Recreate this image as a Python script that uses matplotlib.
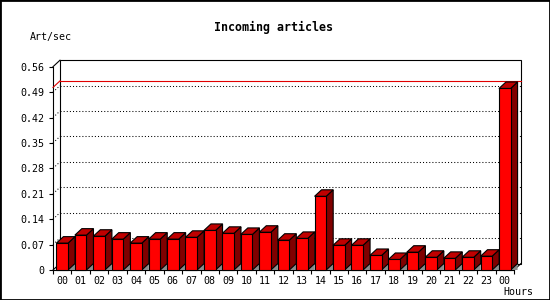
import matplotlib
matplotlib.use("Agg")
import matplotlib.pyplot as plt
from matplotlib import transforms
from matplotlib.patches import Polygon, Rectangle
import numpy as np

# ---- data ----
hours = ['00', '01', '02', '03', '04', '05', '06', '07', '08', '09', '10', '11',
         '12', '13', '14', '15', '16', '17', '18', '19', '20', '21', '22', '23', '00']
rates = [0.074, 0.096, 0.093, 0.085, 0.074, 0.085, 0.085, 0.090, 0.109, 0.101,
         0.098, 0.104, 0.082, 0.087, 0.203, 0.068, 0.068, 0.040, 0.029, 0.049,
         0.035, 0.032, 0.035, 0.038, 0.500]
max_line = 0.503
y_ticks = [0, 0.07, 0.14, 0.21, 0.28, 0.35, 0.42, 0.49, 0.56]
y_tick_labels = ['0', '0.07', '0.14', '0.21', '0.28', '0.35', '0.42', '0.49', '0.56']
title = 'Incoming articles'
y_label = 'Art/sec'
x_label = 'Hours'

# ---- style ----
W, H = 550, 300
DPI = 100
DX, DY = 7, 6.5          # 3D depth in pixels
BAR_W = 0.63
FRONT = '#ff0000'
TOP = '#c00000'
SIDE = '#800000'
SHADOW = '#8c8c8c'
MONO = 'DejaVu Sans Mono'
LW = 0.8

fig = plt.figure(figsize=(W / DPI, H / DPI), dpi=DPI)
fig.patch.set_facecolor('white')
ax = fig.add_axes([53 / W, 30 / H, 461 / W, 203.3 / H])
ax.set_facecolor('none')
n = len(rates)
ax.set_xlim(0, n)
ax.set_ylim(0, y_ticks[-1])

for s in ('top', 'right'):
    ax.spines[s].set_visible(False)
for s in ('left', 'bottom'):
    ax.spines[s].set_linewidth(LW)
    ax.spines[s].set_zorder(20)

ax.set_yticks(y_ticks, y_tick_labels)
ax.set_xticks(np.arange(0, n + 1))
ax.set_xticklabels([])
ax.set_xticks(np.arange(n) + 0.5, minor=True)
ax.set_xticklabels(hours, minor=True)
ax.tick_params(axis='y', length=3, width=LW, pad=3, labelsize=7.2)
ax.tick_params(axis='x', which='major', length=3, width=LW)
ax.tick_params(axis='x', which='minor', length=0, pad=4.5, labelsize=7.2)
for lab in ax.get_xticklabels(minor=True) + ax.get_yticklabels():
    lab.set_family(MONO)

P = ax.transData.transform
ident = transforms.IdentityTransform()
d = np.array([DX, DY])
back = transforms.offset_copy(ax.transData, fig=fig, x=DX, y=DY, units='dots')


def poly(pts, **kw):
    p = Polygon(np.array(pts), closed=True, transform=ident, clip_on=False, **kw)
    fig.add_artist(p)
    return p


def line(pts, **kw):
    pts = np.array(pts)
    ln = plt.Line2D(pts[:, 0], pts[:, 1], transform=ident, clip_on=False, **kw)
    fig.add_artist(ln)
    return ln


# back wall
wall = Rectangle((0, 0), n, y_ticks[-1], transform=back, facecolor='white',
                 edgecolor='black', lw=LW, clip_on=False, zorder=1)
fig.add_artist(wall)

# gridlines on back wall and left wall
for v in y_ticks[1:-1]:
    fig.add_artist(plt.Line2D([0, n], [v, v], transform=back, color='black',
                              lw=0.75, ls=(0, (1, 2)), clip_on=False, zorder=2))
    p0 = P((0, v))
    line([p0, p0 + d], color='black', lw=0.75, ls=(0, (1, 2)), zorder=2)

# max line
fig.add_artist(plt.Line2D([0, n], [max_line, max_line], transform=back, color='#e00000',
                          lw=LW, clip_on=False, zorder=3))
p0 = P((0, max_line))
line([p0, p0 + d], color='#e00000', lw=LW, zorder=3)

# frame connectors
for pt in [(0, 0), (0, y_ticks[-1]), (n, 0)]:
    p0 = P(pt)
    line([p0, p0 + d], color='black', lw=LW, zorder=4)

# bars
for i, h in enumerate(rates):
    x0 = i + 0.5 - BAR_W / 2
    x1 = i + 0.5 + BAR_W / 2
    a, b = P((x0, 0)), P((x1, 0))
    c, e = P((x1, h)), P((x0, h))
    z = 5 + i * 0.01
    poly([b, b + d, b + np.array([DX, 0])], facecolor=SHADOW, edgecolor='none', zorder=z)
    poly([b, c, c + d, b + d], facecolor=SIDE, edgecolor='black', lw=LW, joinstyle='miter', zorder=z)
    poly([e, c, c + d, e + d], facecolor=TOP, edgecolor='black', lw=LW, joinstyle='miter', zorder=z)
    poly([a, b, c, e], facecolor=FRONT, edgecolor='black', lw=LW, joinstyle='miter', zorder=z + 0.001)

# texts
fig.text(273 / W, 1 - 27 / H, title, ha='center', va='center', family=MONO,
         weight='bold', size=8.4)
fig.text(30 / W, 1 - 37 / H, y_label, ha='left', va='center', family=MONO, size=7.2)
fig.text(533 / W, 1 - 292 / H, x_label, ha='right', va='center', family=MONO, size=7.2)

# outer border
fig.add_artist(Rectangle((0, 0), 1, 1, transform=fig.transFigure, fill=False,
                         edgecolor='black', lw=2, zorder=30))

fig.savefig('out.png', dpi=DPI)
